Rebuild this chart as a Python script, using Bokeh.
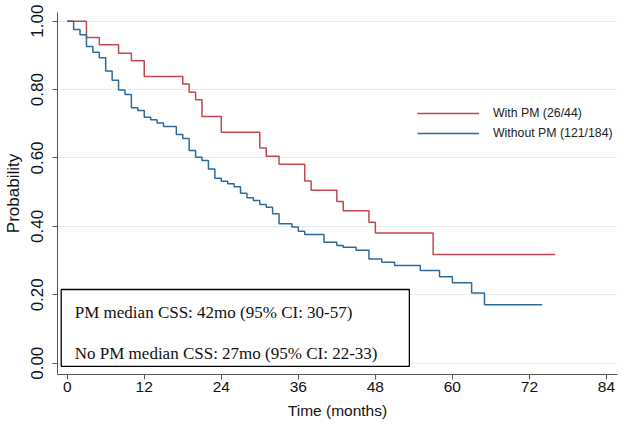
from bokeh.plotting import figure
from bokeh.models import (Range1d, FixedTicker, NumeralTickFormatter, Legend, LegendItem,
                          BoxAnnotation, Label)
from bokeh.embed import file_html
from bokeh.resources import INLINE

# Kaplan-Meier steps (time in months, survival probability)
with_pm_t = [0, 3, 5, 8, 10, 12, 18, 19, 20, 21, 24, 30, 31, 33, 37, 38, 42, 43, 47, 48, 57, 76]
with_pm_s = [1.0, 0.952, 0.931, 0.906, 0.884, 0.838, 0.816, 0.792, 0.770, 0.721, 0.675,
             0.629, 0.605, 0.582, 0.533, 0.506, 0.473, 0.446, 0.412, 0.381, 0.318, 0.318]

without_pm_t = [0, 1, 2, 3, 4, 5, 6, 7, 8, 9, 10, 11, 12, 13, 14, 15, 17, 18, 19, 20, 21, 22,
                23, 24, 25, 26, 27, 28, 29, 30, 31, 32, 33, 35, 36, 37, 40, 42, 43, 45, 47,
                49, 51, 55, 58, 60, 63, 65, 74]
without_pm_s = [1.0, 0.976, 0.960, 0.926, 0.909, 0.893, 0.854, 0.827, 0.799, 0.786, 0.747,
                0.739, 0.719, 0.712, 0.702, 0.692, 0.669, 0.657, 0.622, 0.602, 0.593, 0.568,
                0.541, 0.532, 0.525, 0.516, 0.497, 0.484, 0.476, 0.464, 0.456, 0.437, 0.408,
                0.398, 0.386, 0.376, 0.354, 0.344, 0.339, 0.330, 0.305, 0.295, 0.286, 0.271,
                0.253, 0.235, 0.205, 0.171, 0.171]

series_labels = ["With PM (26/44)", "Without PM (121/184)"]
x_ticks = [0, 12, 24, 36, 48, 60, 72, 84]
y_ticks = [0.0, 0.2, 0.4, 0.6, 0.8, 1.0]
box_lines = ["PM median CSS: 42mo (95% CI: 30-57)",
             "No PM median CSS: 27mo (95% CI: 22-33)"]

RED = "#c4474f"
BLUE = "#2d6a9c"
AX = "#555555"

p = figure(width=624, height=426, output_backend="svg", toolbar_location=None,
           x_range=Range1d(-1.51, 85.72), y_range=Range1d(-0.033, 1.0254),
           min_border_left=57, min_border_right=7, min_border_top=12, min_border_bottom=52)
p.outline_line_color = None
p.background_fill_color = "white"

r1 = p.step(with_pm_t, with_pm_s, mode="after", line_color=RED, line_width=1.5)
r2 = p.step(without_pm_t, without_pm_s, mode="after", line_color=BLUE, line_width=1.5)

# axes
p.xaxis.ticker = FixedTicker(ticks=x_ticks)
p.yaxis.ticker = FixedTicker(ticks=y_ticks)
p.yaxis.formatter = NumeralTickFormatter(format="0.00")
p.yaxis.major_label_orientation = "vertical"
for ax in (p.xaxis, p.yaxis):
    ax.axis_line_color = AX
    ax.major_tick_line_color = AX
    ax.minor_tick_line_color = None
    ax.major_tick_out = 5
    ax.major_tick_in = 0
    ax.major_label_text_font = "Liberation Sans"
    ax.major_label_text_color = "#111111"
    ax.axis_label_text_font = "Liberation Sans"
    ax.axis_label_text_font_style = "normal"
    ax.axis_label_text_color = "#111111"
p.xaxis.major_label_text_font_size = "15.5px"
p.yaxis.major_label_text_font_size = "17px"
p.xaxis.axis_label_text_font_size = "15.5px"
p.yaxis.axis_label_text_font_size = "17px"
p.xaxis.axis_label = "Time (months)"
p.yaxis.axis_label = "Probability"
p.xaxis.major_label_standoff = 2
p.xaxis.axis_label_standoff = 7
p.yaxis.major_label_standoff = 9
p.yaxis.axis_label_standoff = 6

p.xgrid.grid_line_color = None
p.ygrid.ticker = FixedTicker(ticks=y_ticks)
p.ygrid.grid_line_color = "#e4eef1"
p.ygrid.grid_line_width = 1

legend = Legend(items=[LegendItem(label=series_labels[0], renderers=[r1]),
                       LegendItem(label=series_labels[1], renderers=[r2])],
                location=(360, 231), orientation="vertical",
                glyph_width=62, glyph_height=20, label_height=20, label_standoff=14,
                spacing=0, padding=0, margin=0,
                border_line_color=None, background_fill_alpha=0,
                label_text_font="Liberation Sans", label_text_font_size="12.3px",
                label_text_color="#222222")
p.add_layout(legend)

box = BoxAnnotation(left=-0.93, right=53.3, bottom=-0.009, top=0.2155,
                    fill_color="white", fill_alpha=1.0, line_color="black",
                    line_alpha=1.0, line_width=1.3)
p.add_layout(box)
p.add_layout(Label(x=1.18, y=0.149, text=box_lines[0], text_font="Liberation Serif",
                   text_font_size="17px", text_baseline="alphabetic", text_color="#111111"))
p.add_layout(Label(x=1.18, y=0.029, text=box_lines[1], text_font="Liberation Serif",
                   text_font_size="17px", text_baseline="alphabetic", text_color="#111111"))

open("out.html", "w").write(file_html(p, INLINE))
